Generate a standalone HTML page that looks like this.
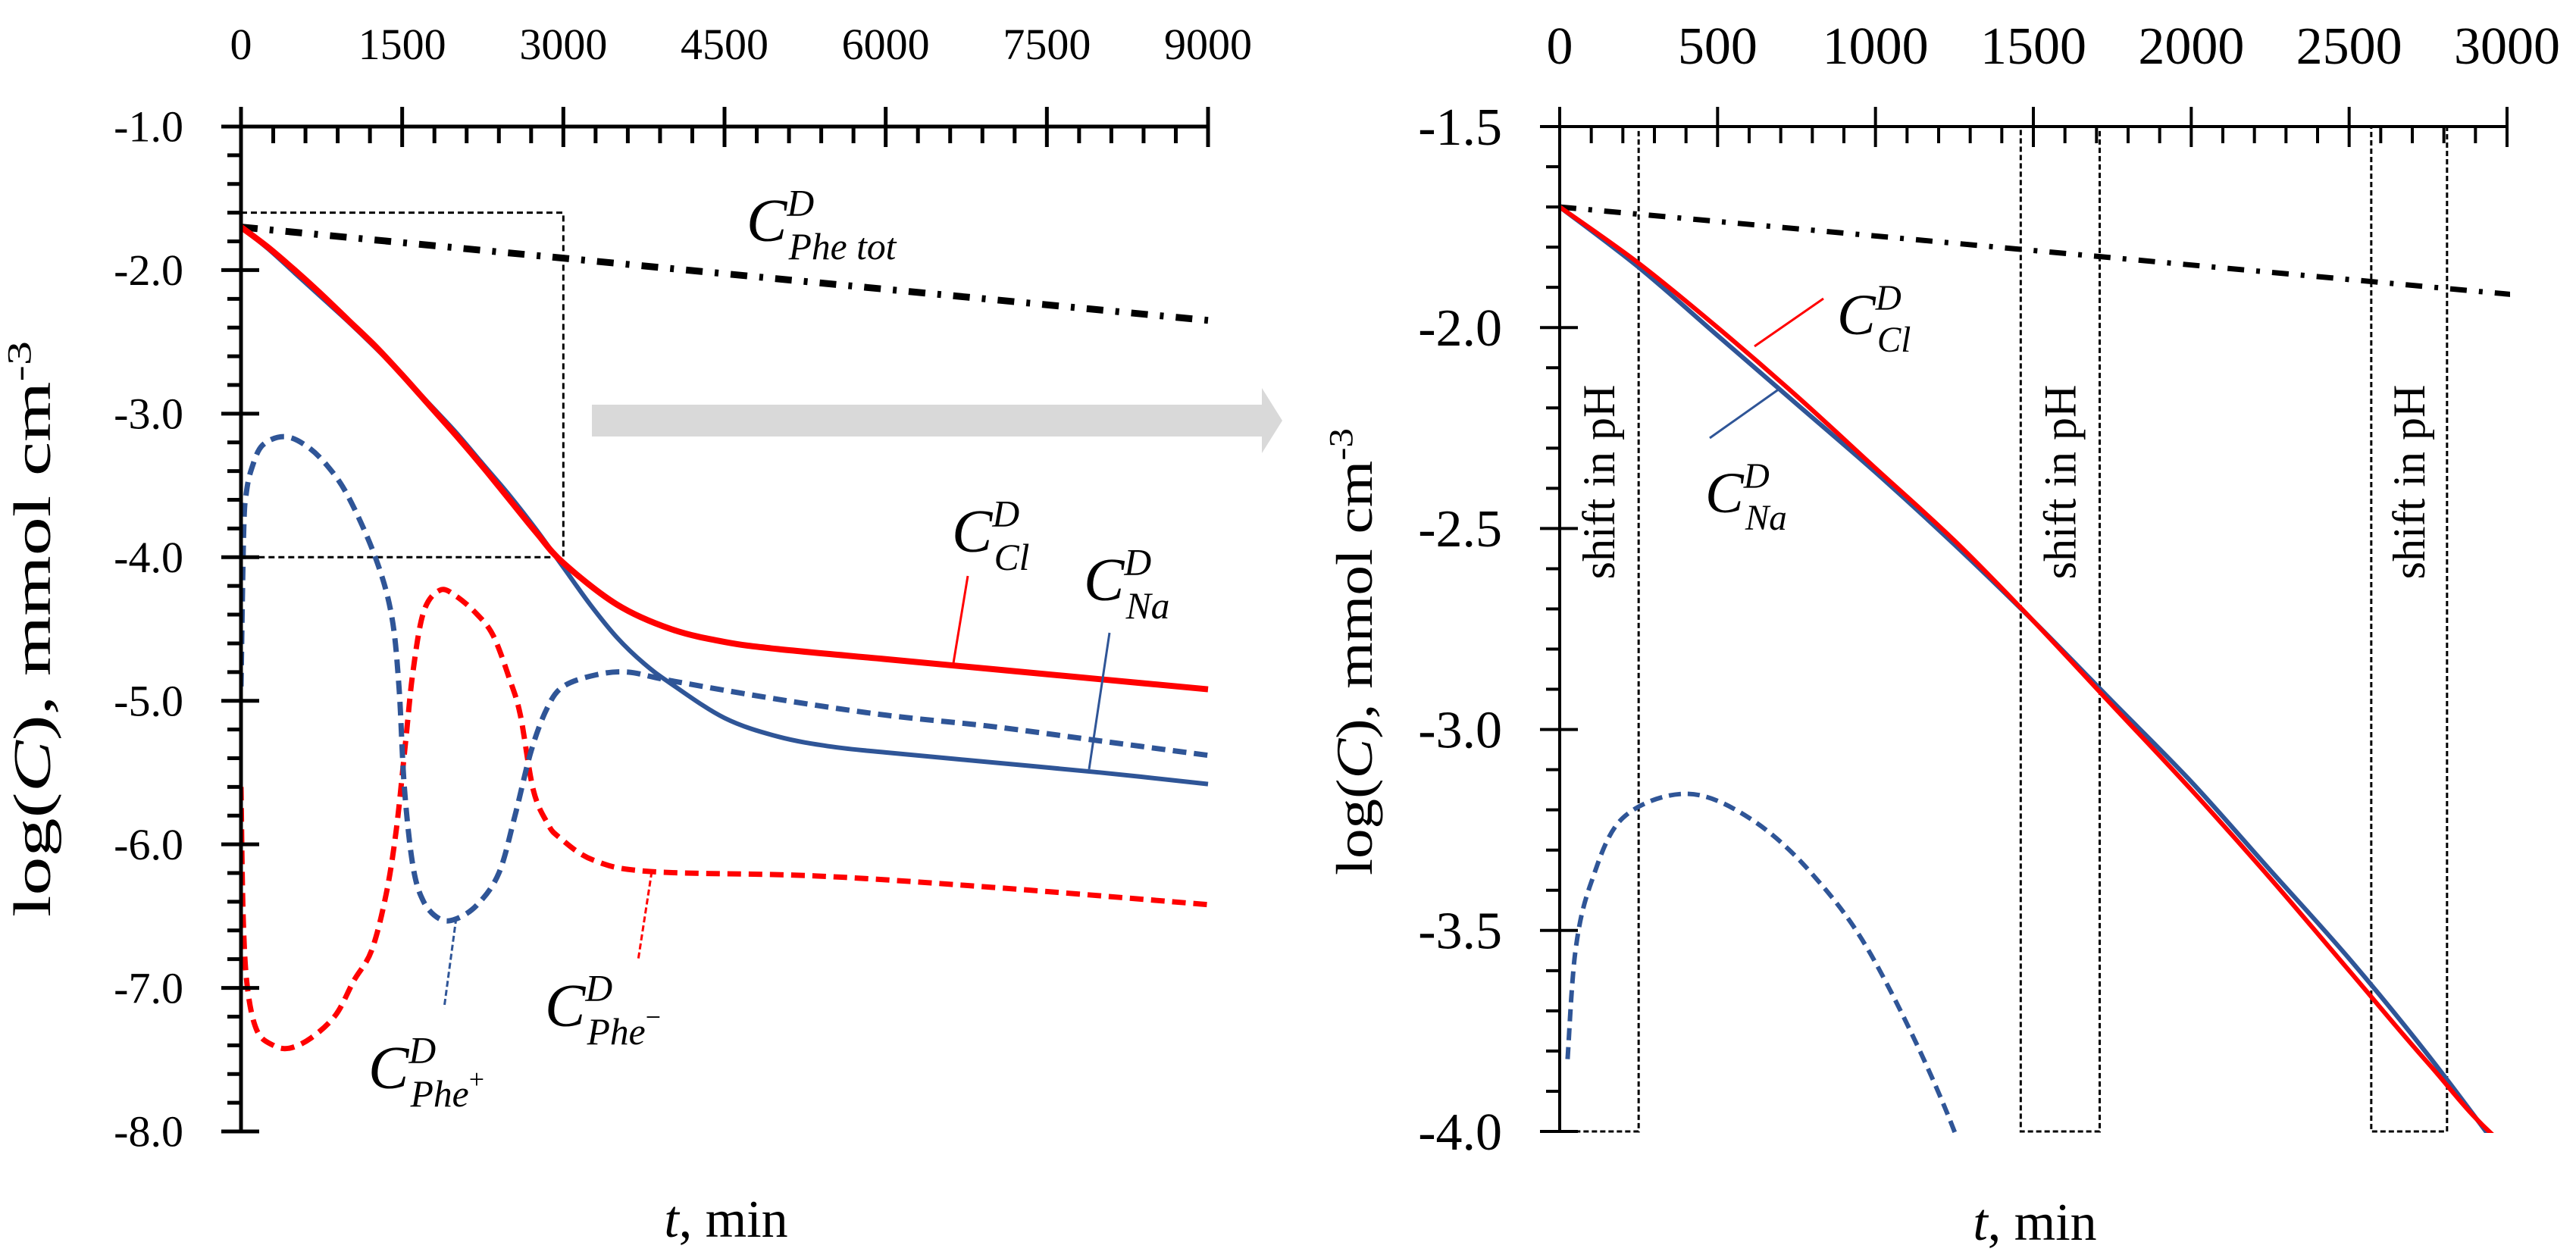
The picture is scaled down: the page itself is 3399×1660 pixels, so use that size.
<!DOCTYPE html>
<html><head><meta charset="utf-8"><style>
html,body{margin:0;padding:0;background:#fff;overflow:hidden;width:3399px;height:1660px;}
svg{display:block;font-family:"Liberation Serif",serif;}
</style></head><body>
<svg id="chart" width="3399" height="1660" viewBox="0 0 3399 1660" xmlns="http://www.w3.org/2000/svg">
<defs>
<clipPath id="clipL"><rect x="318" y="160" width="1280" height="1340"/></clipPath>
<clipPath id="clipR"><rect x="2058" y="160" width="1254" height="1335"/></clipPath>
</defs>
<g id="left"></g>
<g id="right"></g>
</svg>
<script>
// ---- data (time in min, value = log C) ----
const tPheTot = [0, 9000];
const vPheTot = [-1.70, -2.35];
const tCl = [0,250,500,750,1000,1250,1500,1750,2000,2250,2500,2750,3000,3500,4000,4500,5000,6000,7000,8000,9000];
const vCl = [-1.70,-1.84,-2.00,-2.17,-2.35,-2.53,-2.73,-2.94,-3.15,-3.37,-3.60,-3.83,-4.04,-4.33,-4.50,-4.59,-4.64,-4.71,-4.78,-4.85,-4.92];
const tNa = [0,250,500,750,1000,1250,1500,1750,2000,2250,2500,2750,3000,3250,3500,3750,4000,4500,5000,5500,6000,7000,8000,9000];
const vNa = [-1.70,-1.85,-2.02,-2.19,-2.36,-2.54,-2.73,-2.93,-3.13,-3.35,-3.57,-3.81,-4.07,-4.33,-4.56,-4.74,-4.88,-5.12,-5.25,-5.32,-5.36,-5.43,-5.50,-5.58];
const tPhePlus = [0,25,50,100,200,400,600,800,1000,1250,1400,1470,1520,1600,1700,1850,2000,2200,2400,2550,2700,2850,3000,3300,3600,4000,5000,6000,7000,8000,9000];
const vPhePlus = [-4.9,-3.82,-3.55,-3.38,-3.22,-3.16,-3.22,-3.36,-3.58,-4.0,-4.4,-4.9,-5.6,-6.15,-6.40,-6.52,-6.52,-6.42,-6.2,-5.8,-5.35,-5.05,-4.9,-4.82,-4.80,-4.86,-4.99,-5.1,-5.18,-5.28,-5.38];
const tPheMinus = [0,20,60,150,300,450,650,880,1050,1215,1350,1445,1530,1600,1700,1850,2000,2200,2350,2500,2600,2720,2850,2960,3280,3820,5350,7000,9000];
const vPheMinus = [-5.6,-6.5,-7.0,-7.3,-7.40,-7.42,-7.35,-7.19,-6.95,-6.74,-6.35,-5.9,-5.3,-4.8,-4.38,-4.23,-4.27,-4.4,-4.55,-4.85,-5.1,-5.62,-5.85,-5.95,-6.11,-6.19,-6.22,-6.3,-6.42];
const leftXTicks = [0,1500,3000,4500,6000,7500,9000];
const leftYTicks = [-1,-2,-3,-4,-5,-6,-7,-8];
const rightXTicks = [0,500,1000,1500,2000,2500,3000];
const rightYTicks = [-1.5,-2.0,-2.5,-3.0,-3.5,-4.0];
const shiftStart = [0,1460,2570];
const shiftEnd = [250,1710,2810];

const NS="http://www.w3.org/2000/svg";
function mk(parent, tag, attrs){const e=document.createElementNS(NS,tag);for(const k in attrs)e.setAttribute(k,attrs[k]);parent.appendChild(e);return e;}

function makeAxes(x0,x1,t0,t1,y0,y1,v0,v1){
  return {x:t=>x0+(t-t0)/(t1-t0)*(x1-x0), y:v=>y0+(v-v0)/(v1-v0)*(y1-y0)};
}
const L = makeAxes(318,1594,0,9000,167,1493,-1,-8);
const R = makeAxes(2058,3308,0,3000,167,1493,-1.5,-4.0);

function smoothPath(ax,ts,vs){
  const p=ts.map((t,i)=>[ax.x(t),ax.y(vs[i])]);
  let d=`M${p[0][0]},${p[0][1]}`;
  for(let i=0;i<p.length-1;i++){
    const a=p[Math.max(0,i-1)],b=p[i],c=p[i+1],e=p[Math.min(p.length-1,i+2)];
    const c1=[b[0]+(c[0]-a[0])/6,b[1]+(c[1]-a[1])/6];
    const c2=[c[0]-(e[0]-b[0])/6,c[1]-(e[1]-b[1])/6];
    d+=` C${c1[0]},${c1[1]} ${c2[0]},${c2[1]} ${c[0]},${c[1]}`;
  }
  return d;
}

function drawAxes(g,ax,xt,yt,xMinorStep,yMinorStep,xmax,ymin,ymax,sw,fs,labX,labY){
  const top=ax.y(ymax), bot=ax.y(ymin), left=ax.x(0), right=ax.x(xmax);
  let e=mk(g,'line',{x1:left,y1:top,x2:right,y2:top,stroke:'#000','stroke-width':sw});
  
  e=mk(g,'line',{x1:left,y1:top,x2:left,y2:bot,stroke:'#000','stroke-width':sw});
  
  for(let t=0;t<=xmax+1e-6;t+=xMinorStep){
    const isMaj=xt.some(m=>Math.abs(m-t)<1e-6);
    const l=mk(g,'line',{x1:ax.x(t),x2:ax.x(t),y1:isMaj?top-26:top,y2:isMaj?top+27:top+22,stroke:'#000','stroke-width':sw});
    
  }
  xt.forEach(t=>{const tx=mk(g,'text',{x:ax.x(t),y:labY,'font-size':fs,'text-anchor':'middle'});tx.textContent=t;
    });
  for(let v=ymax;v>=ymin-1e-6;v-=yMinorStep){
    const isMaj=yt.some(m=>Math.abs(m-v)<1e-6);
    const l=mk(g,'line',{x1:isMaj?left-26:left-18,x2:isMaj?left+24:left,y1:ax.y(v),y2:ax.y(v),stroke:'#000','stroke-width':sw});
    
  }
  yt.forEach(v=>{const tx=mk(g,'text',{x:labX,y:ax.y(v)+fs*0.34,'font-size':fs,'text-anchor':'end'});tx.textContent=v.toFixed(1);
    });
}

function series(g,ax,ts,vs,color,w,dash,name,clip){
  const p=mk(g,'path',{d:smoothPath(ax,ts,vs),fill:'none',stroke:color,'stroke-width':w,'stroke-dasharray':dash,'clip-path':clip});
  
}

function label(g,x,y,sub,sup2,name,size){
  const t=mk(g,'text',{x:x,y:y,'font-size':size,'font-style':'italic'});
  
  t.innerHTML=`C<tspan dy="-${size*0.42}" font-size="${size*0.62}">D</tspan><tspan dx="-${size*0.42}" dy="${size*0.72}" font-size="${size*0.62}">${sub}</tspan>`+(sup2?`<tspan dy="-${size*0.3}" font-size="${size*0.45}" font-style="normal">${sup2}</tspan>`:'');
}
function leader(g,x1,y1,x2,y2,c,dash,name){
  const l=mk(g,'line',{x1,y1,x2,y2,stroke:c,'stroke-width':3,'stroke-dasharray':dash||'none'});
  
}

const RED='#ff0000', BLUE='#2f5597';
// ---- left ----
const gl=document.getElementById('left');
let r=mk(gl,'rect',{x:L.x(0),y:L.y(-1.6),width:L.x(3000)-L.x(0),height:L.y(-4.0)-L.y(-1.6),fill:'none',stroke:'#000','stroke-width':3,'stroke-dasharray':'8,5'});

series(gl,L,tPheTot,vPheTot,'#000',9,'22,16,5,16','line-phe-tot','url(#clipL)');
series(gl,L,tPheMinus,vPheMinus,RED,7,'18,10','line-phe-minus','url(#clipL)');
series(gl,L,tPhePlus,vPhePlus,BLUE,7,'18,10','line-phe-plus','url(#clipL)');
series(gl,L,tNa,vNa,BLUE,6,'none','line-na','url(#clipL)');
series(gl,L,tCl,vCl,RED,8,'none','line-cl','url(#clipL)');
drawAxes(gl,L,leftXTicks,leftYTicks,300,0.2,9000,-8,-1,5,58,242,78);
let ar=mk(gl,'polygon',{points:'781,534 1665,534 1665,512 1692,555 1665,598 1665,576 781,576',fill:'#d9d9d9'});

label(gl,985,318,'Phe tot',null,'label-phe-tot',80);
label(gl,1256,728,'Cl',null,'label-cl',80);
label(gl,1430,792,'Na',null,'label-na',80);
label(gl,486,1436,'Phe','+','label-phe-plus',80);
label(gl,719,1354,'Phe','−','label-phe-minus',80);
leader(gl,1277,760,1258,875,RED,null,'leader-cl');
leader(gl,1464,835,1437,1015,BLUE,null,'leader-na');
leader(gl,602,1211,586,1330,BLUE,'8,4','leader-phe-plus');
leader(gl,860,1150,842,1267,RED,'8,4','leader-phe-minus');
let yl=mk(gl,'text',{x:0,y:0,'font-size':70,'text-anchor':'middle',textLength:760,lengthAdjust:'spacingAndGlyphs',transform:'translate(66,830) rotate(-90)'});
yl.innerHTML='log(<tspan font-style="italic">C</tspan>), mmol cm<tspan dy="-26" font-size="44">-3</tspan>';

let xl=mk(gl,'text',{x:958,y:1632,'font-size':70,'text-anchor':'middle'});
xl.innerHTML='<tspan font-style="italic">t</tspan>, min';


// ---- right ----
const gr=document.getElementById('right');
shiftStart.forEach((s,i)=>{
  const b=mk(gr,'rect',{x:R.x(s),y:R.y(-1.5),width:R.x(shiftEnd[i])-R.x(s),height:R.y(-4.0)-R.y(-1.5),fill:'none',stroke:'#000','stroke-width':3,'stroke-dasharray':'7,4'});
  
  const cx=(R.x(s)+R.x(shiftEnd[i]))/2;
  const t=mk(gr,'text',{x:0,y:0,'font-size':60,'text-anchor':'middle',transform:`translate(${cx+20},636) rotate(-90)`});
  t.textContent='shift in pH';
  
});
series(gr,R,tPheTot,vPheTot,'#000',7,'22,16,5,16','line-phe-tot-zoom','url(#clipR)');
series(gr,R,tPhePlus.slice(1),vPhePlus.slice(1),BLUE,6,'16,9','line-phe-plus-zoom','url(#clipR)');
series(gr,R,tNa,vNa,BLUE,6,'none','line-na-zoom','url(#clipR)');
series(gr,R,tCl,vCl,RED,6,'none','line-cl-zoom','url(#clipR)');
drawAxes(gr,R,rightXTicks,rightYTicks,100,0.1,3000,-4.0,-1.5,4,70,1982,84);
label(gr,2424,441,'Cl',null,'label-cl-zoom',76);
label(gr,2250,676,'Na',null,'label-na-zoom',76);
leader(gr,2315,457,2406,394,RED,null,'leader-cl-zoom');
leader(gr,2348,513,2256,578,BLUE,null,'leader-na-zoom');
let yr=mk(gr,'text',{x:0,y:0,'font-size':68,'text-anchor':'middle',textLength:590,lengthAdjust:'spacingAndGlyphs',transform:'translate(1810,860) rotate(-90)'});
yr.innerHTML='log(<tspan font-style="italic">C</tspan>), mmol cm<tspan dy="-26" font-size="44">-3</tspan>';

let xr=mk(gr,'text',{x:2685,y:1636,'font-size':70,'text-anchor':'middle'});
xr.innerHTML='<tspan font-style="italic">t</tspan>, min';

</script>
</body></html>
